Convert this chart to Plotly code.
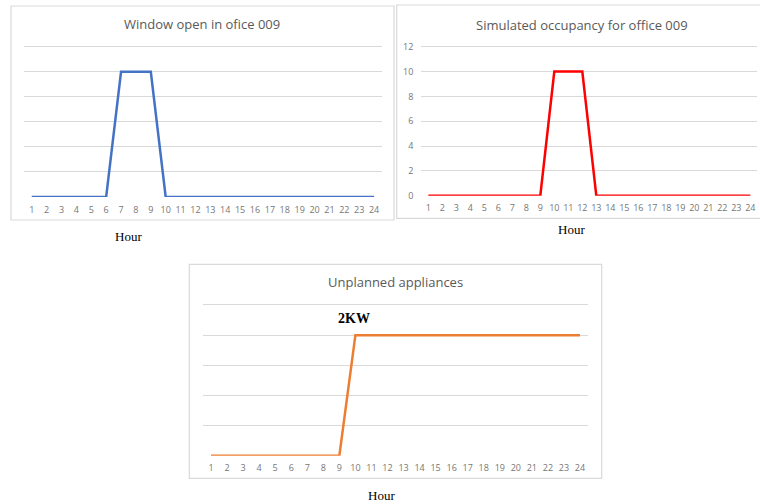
import plotly.graph_objects as go

hours = [1, 2, 3, 4, 5, 6, 7, 8, 9, 10, 11, 12, 13, 14, 15, 16, 17, 18, 19, 20, 21, 22, 23, 24]
window_open = [0, 0, 0, 0, 0, 0, 5, 5, 5, 0, 0, 0, 0, 0, 0, 0, 0, 0, 0, 0, 0, 0, 0, 0]
occupancy = [0, 0, 0, 0, 0, 0, 0, 0, 0, 10, 10, 10, 0, 0, 0, 0, 0, 0, 0, 0, 0, 0, 0, 0]
appliances_kw = [0, 0, 0, 0, 0, 0, 0, 0, 0, 2, 2, 2, 2, 2, 2, 2, 2, 2, 2, 2, 2, 2, 2, 2]
tick_labels = [str(h) for h in hours]

W, H = 760, 504
def px(x):
    return x / W
def py(y):
    return 1 - y / H

GRID = "#D9D9D9"
TICKC = "#767676"
TITLEC = "#595959"
SANS = "Open Sans, Noto Sans, sans-serif"
SERIF = "Liberation Serif, Times New Roman, serif"

fig = go.Figure()
fig.add_trace(go.Scatter(x=hours, y=window_open, mode="lines",
                         line=dict(color="#4472C4", width=2.5), xaxis="x", yaxis="y"))
fig.add_trace(go.Scatter(x=hours, y=occupancy, mode="lines",
                         line=dict(color="#FF0000", width=2.5), xaxis="x2", yaxis="y2"))
fig.add_trace(go.Scatter(x=hours, y=appliances_kw, mode="lines",
                         line=dict(color="#ED7D31", width=2.5), xaxis="x3", yaxis="y3"))

def xax(dom, anchor, standoff):
    return dict(domain=dom, anchor=anchor, range=[0.5, 24.5], tickmode="array",
                tickvals=hours, ticktext=tick_labels, showgrid=False, zeroline=False,
                showline=False, ticks="", tickfont=dict(family=SANS, size=9, color=TICKC),
                ticklabelstandoff=standoff, fixedrange=True, automargin=False)

def yax(p0, ptop, vmax, dtick, show, anchor):
    ext = vmax * 1.02
    top = p0 - (p0 - ptop) * ext / vmax
    return dict(domain=[py(p0), py(top)], anchor=anchor, range=[0, ext], dtick=dtick,
                tick0=0, showgrid=True, gridcolor=GRID, gridwidth=1, zeroline=False,
                showline=False, showticklabels=show, ticks="", ticklabelstandoff=7,
                tickfont=dict(family=SANS, size=9, color=TICKC), fixedrange=True,
                automargin=False)

fig.update_layout(
    template="none",
    width=W, height=H, margin=dict(l=0, r=0, t=0, b=0, pad=0, autoexpand=False),
    paper_bgcolor="white", plot_bgcolor="white", showlegend=False,
    xaxis=xax([px(24.3), px(381.5)], "y", 6),
    yaxis=yax(197, 46.7, 6, 1, False, "x"),
    xaxis2=xax([px(421.3), px(757.3)], "y2", 5),
    yaxis2=yax(195.7, 46.7, 12, 2, True, "x2"),
    xaxis3=xax([px(203), px(588)], "y3", 5),
    yaxis3=yax(455.7, 305, 2.5, 0.5, False, "x3"),
)

shapes = []
for (x0, y0, x1, y1) in [(11, 6, 394, 220), (396.7, 5, 762, 218.3), (189.3, 264.3, 601.7, 478.3)]:
    shapes.append(dict(type="rect", xref="paper", yref="paper", x0=px(x0), x1=px(x1),
                       y0=py(y1), y1=py(y0), line=dict(color=GRID, width=1.2), layer="below"))
fig.update_layout(shapes=shapes)

ann = []
def title(text, x, y):
    ann.append(dict(text=text, x=px(x), y=py(y), xref="paper", yref="paper", showarrow=False,
                    xanchor="center", yanchor="middle", font=dict(family=SANS, size=13, color=TITLEC)))
title("Window open in ofice 009", 202, 24)
title("Simulated occupancy for office 009", 581.7, 25)
title("Unplanned appliances", 395, 282.3)

def hour(x, y):
    ann.append(dict(text="Hour", x=px(x), y=py(y), xref="paper", yref="paper", showarrow=False,
                    xanchor="center", yanchor="middle", font=dict(family=SERIF, size=13, color="black")))
hour(128.3, 236)
hour(571.7, 230)
hour(381.7, 495)

ann.append(dict(text="<b>2KW</b>", x=9.9, y=2.28, xref="x3", yref="y3", showarrow=False,
                xanchor="center", yanchor="middle", font=dict(family=SERIF, size=14, color="black")))
fig.update_layout(annotations=ann)

fig.write_html("out.html", config={"displayModeBar": False},
               post_script="document.body.style.margin='0';document.body.style.overflow='hidden';")
